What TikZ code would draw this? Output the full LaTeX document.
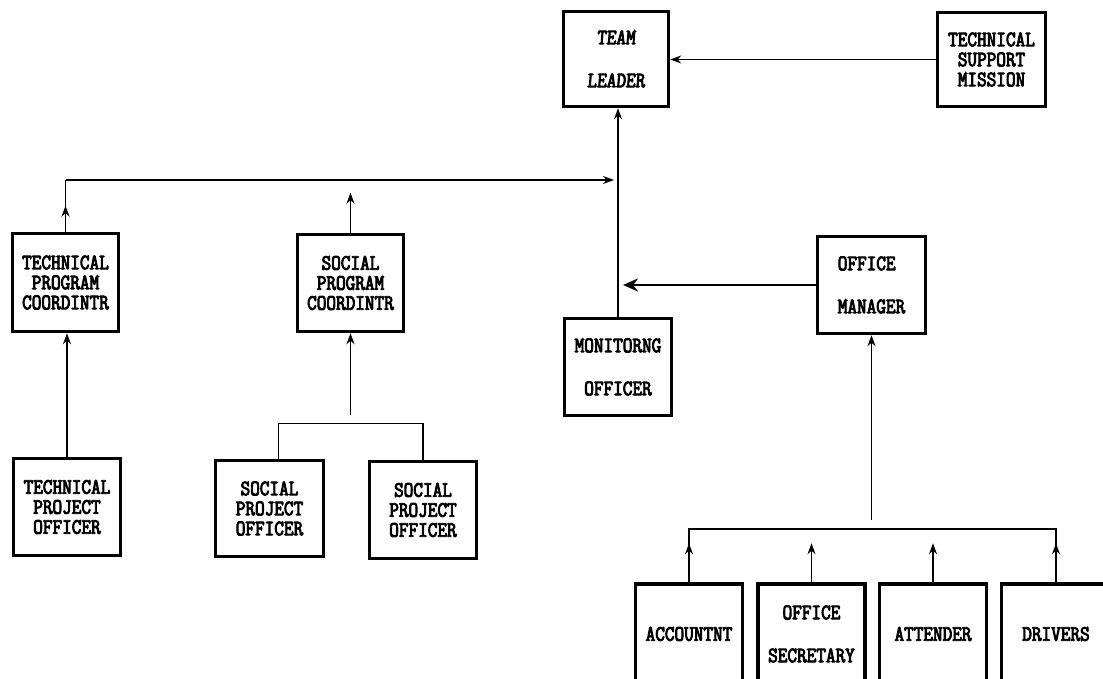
\documentclass[tikz,border=0pt]{standalone}
\usepackage{fontspec}
\usepackage{tikz}
\usetikzlibrary{arrows.meta,calc}
\newfontfamily\dosfont[FakeStretch=0.85,FakeBold=4]{Latin Modern Mono}
\newfontfamily\dosslant[FakeStretch=0.85,FakeBold=4,FakeSlant=0.08]{Latin Modern Mono}
\tikzset{
  % Plain org box, thick black frame
  orgbox/.style={rectangle, draw=black, line width=3.5pt, fill=white,
                 align=center, inner sep=0pt,
                 font=\dosfont\fontsize{22}{20}\selectfont,
                 minimum width=#1, minimum height=97pt},
  orgbox/.default=107pt,
  % Two widely spaced lines
  twoline/.style={font=\dosfont\fontsize{22}{43}\selectfont},
  % Connectors
  link/.style={line width=1.5pt},
  arr/.style ={-{Stealth[length=11pt,width=8pt]}, line width=1.5pt},
  bigarr/.style={-{Stealth[length=15pt,width=13pt]}, line width=2.6pt},
}
\begin{document}
\begin{tikzpicture}[x=1pt,y=1pt]
    \useasboundingbox (0,0) rectangle (1103,679);
    \clip (0,0) rectangle (1103,679);

    %% ── Top ────────────────────────────────────────────────
    \node[orgbox=105pt, minimum height=95pt,
          font=\dosslant\fontsize{22}{43}\selectfont]
         (tl) at (616,620) {TEAM\\LEADER};
    \node[orgbox=108pt, minimum height=94pt] (tsm) at (991.5,619.5)
         {TECHNICAL\\SUPPORT\\MISSION};

    %% ── Coordinators ───────────────────────────────────────
    \node[orgbox=106pt, minimum height=98pt] (tpc) at (65.5,396.5)
         {TECHNICAL\\PROGRAM\\COORDINTR};
    \node[orgbox=106pt] (spc) at (350.5,396) {SOCIAL\\PROGRAM\\COORDINTR};

    %% ── Project officers ───────────────────────────────────
    \node[orgbox] (tpo)  at (67,172)      {TECHNICAL\\PROJECT\\OFFICER};
    \node[orgbox=108pt, minimum height=96pt] (spo1) at (269.5,170.5) {SOCIAL\\PROJECT\\OFFICER};
    \node[orgbox] (spo2) at (423,169)     {SOCIAL\\PROJECT\\OFFICER};

    %% ── Monitoring / office ────────────────────────────────
    \node[orgbox, twoline] (mo) at (618,312) {MONITORNG\\OFFICER};
    \node[orgbox=108pt, twoline, align=left] (om) at (871.5,394) {OFFICE\\MANAGER};

    %% ── Office staff (cut at the bottom) ───────────────────
    \node[orgbox, minimum height=100pt] (acc) at (689,45)    {ACCOUNTNT};
    \node[orgbox, minimum height=100pt, twoline] (sec) at (811.5,45) {OFFICE\\SECRETARY};
    \node[orgbox, minimum height=100pt] (att) at (933,45)    {ATTENDER};
    \node[orgbox=109pt, minimum height=100pt] (drv) at (1056,45) {DRIVERS};

    %% ── Free ends ──────────────────────────────────────────
    \coordinate (busL) at (65.5,499);
    \coordinate (busR) at (614,499);
    \coordinate (omtip) at (623,394);
    \coordinate (sgap) at (350.5,264);
    \coordinate (ogap) at (871.5,159);

    %% ── Arrows ─────────────────────────────────────────────
    \draw[arr] (tsm.west) -- (tsm.west -| tl.east);
    \draw[arr] (mo.north) -- (mo.north |- tl.south);
    \draw[link] (tpc.north) -- (busL);
    \draw[arr] (tpc.north) -- ++(0,26);
    \draw[arr] (busL) -- (busR);
    \draw[arr] (spc.north) -- ++(0,40);
    \draw[arr] (tpo.north) -- (tpo.north |- tpc.south);
    \draw[link] ([xshift=9pt]spo1.north) -- ++(0,35) -| (spo2.north);
    \draw[arr] (sgap) -- (spc.south);
    \draw[bigarr] (om.west) -- (omtip);
    \draw[arr] (ogap) -- (om.south);
    \draw[link] (acc.north) -- ++(0,53) -| (drv.north);
    \foreach \b in {acc,sec,att,drv}
      \draw[arr] (\b.north) -- ++(0,39);

\end{tikzpicture}
\end{document}
